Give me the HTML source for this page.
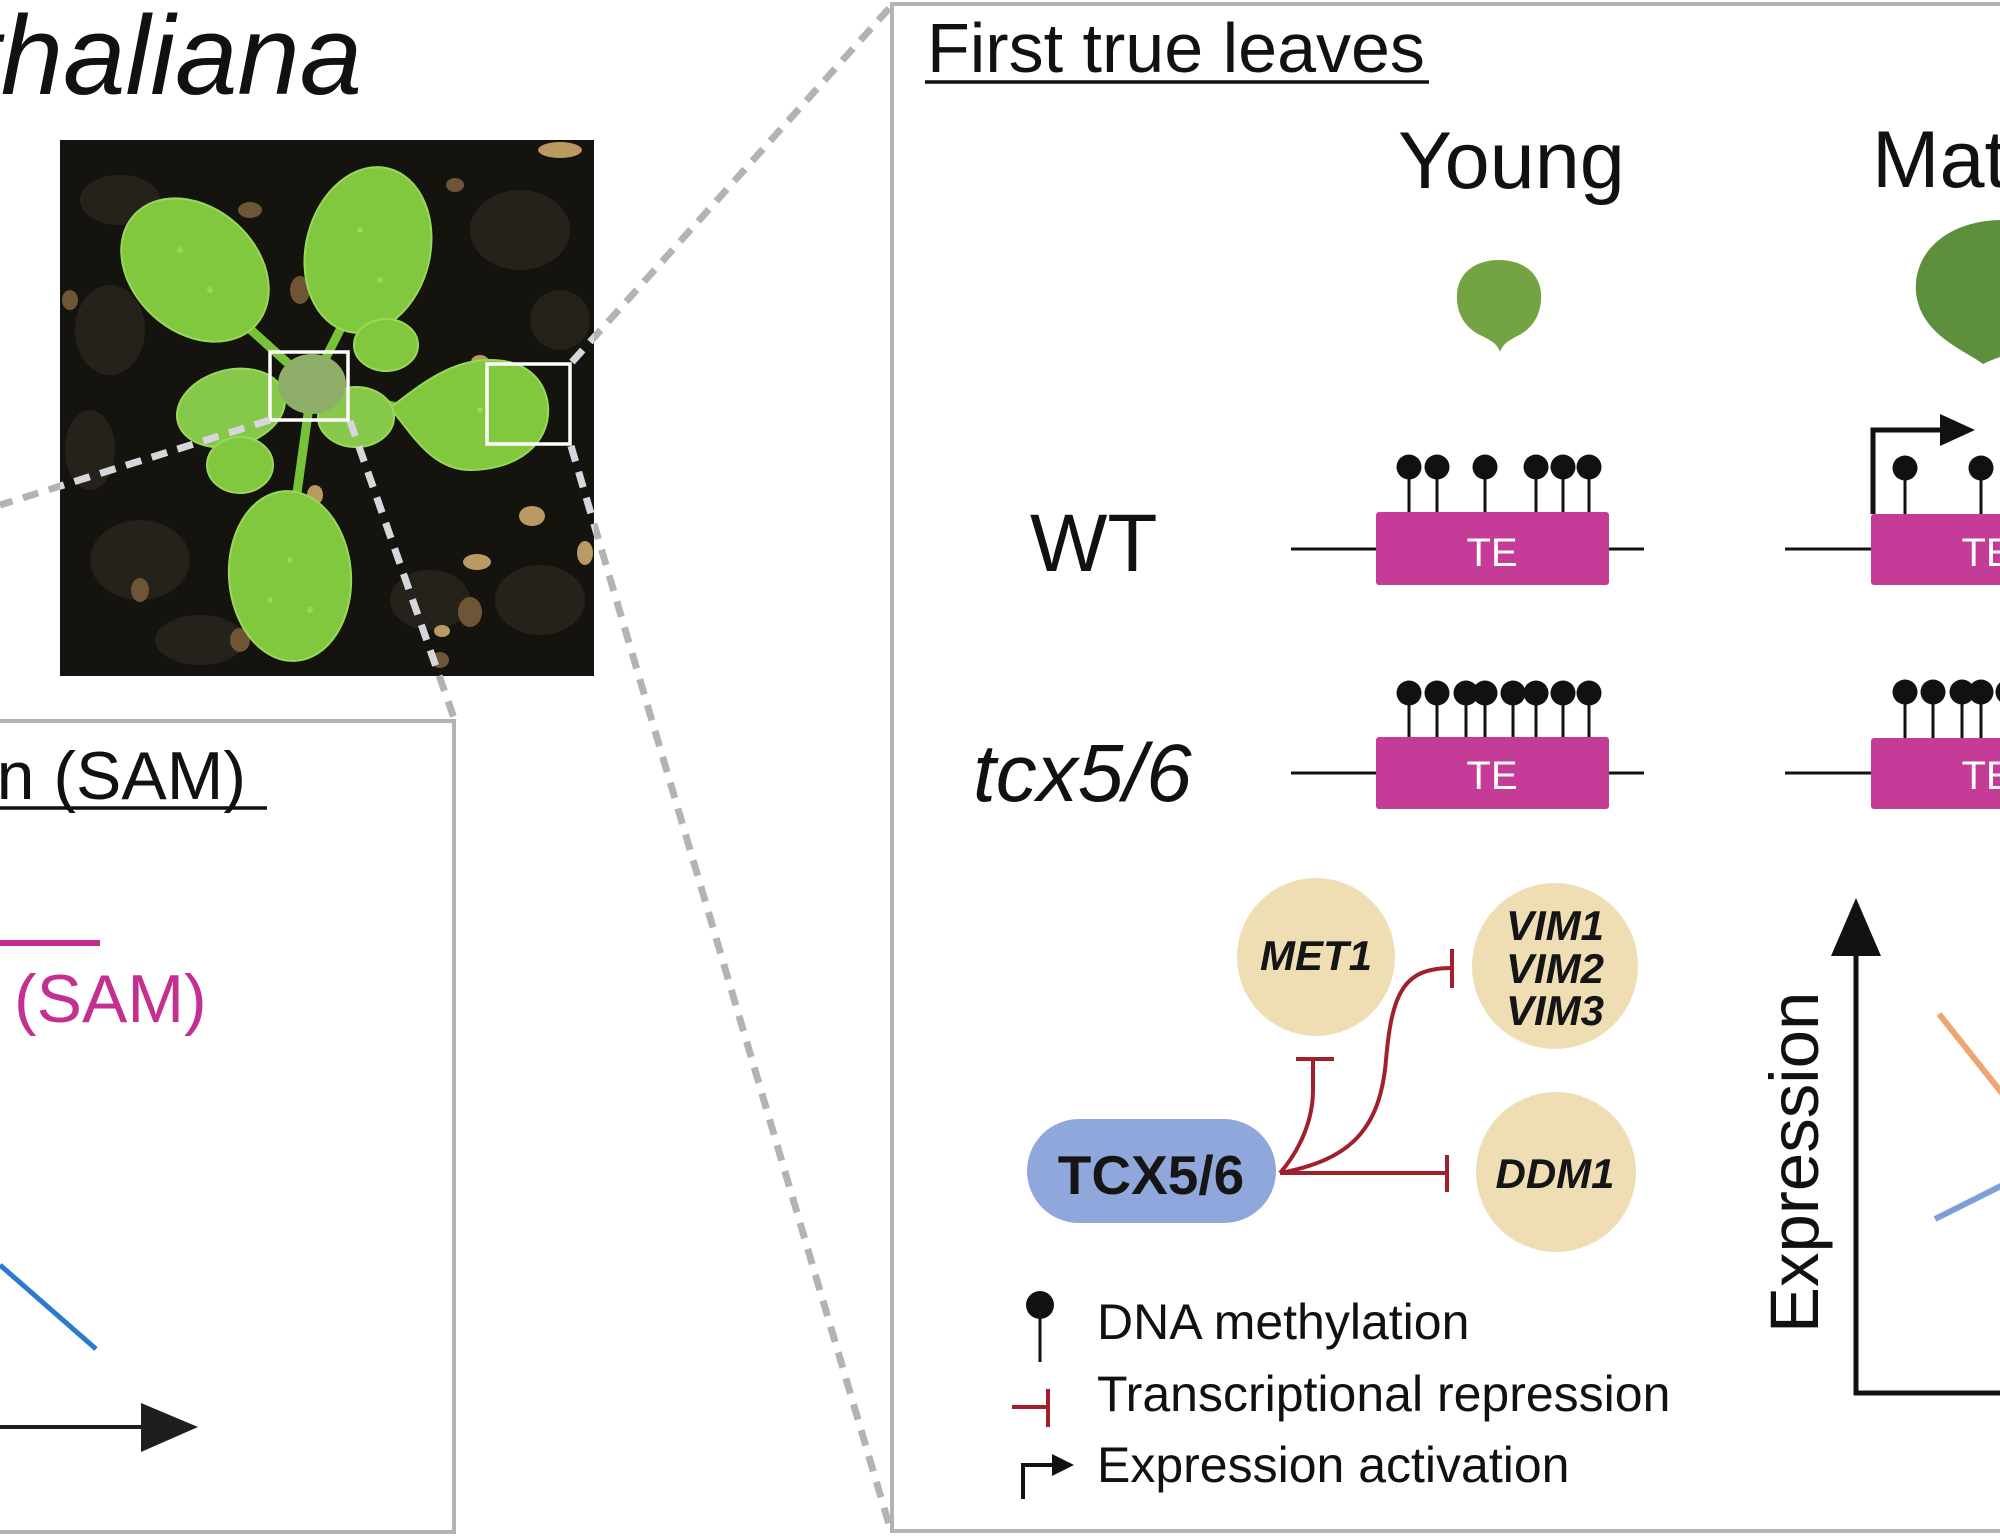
<!DOCTYPE html>
<html>
<head>
<meta charset="utf-8">
<style>
html,body{margin:0;padding:0;background:#fff;}
svg{display:block;}
text{font-family:"Liberation Sans",Arial,sans-serif;}
</style>
</head>
<body>
<svg width="2000" height="1538" viewBox="0 0 2000 1538" xmlns="http://www.w3.org/2000/svg">
<defs>
<clipPath id="photo"><rect x="60" y="140" width="534" height="536"/></clipPath>
</defs>
<rect x="0" y="0" width="2000" height="1538" fill="#fff"/>

<!-- Title -->
<text x="362" y="94" font-size="112" font-style="italic" text-anchor="end" fill="#111">thaliana</text>

<!-- Photo -->
<g clip-path="url(#photo)">
<rect x="60" y="140" width="534" height="536" fill="#14130e"/>
<g fill="#24221b">
<ellipse cx="120" cy="200" rx="40" ry="25"/>
<ellipse cx="110" cy="330" rx="35" ry="45"/>
<ellipse cx="140" cy="560" rx="50" ry="40"/>
<ellipse cx="520" cy="230" rx="50" ry="40"/>
<ellipse cx="540" cy="600" rx="45" ry="35"/>
<ellipse cx="430" cy="600" rx="40" ry="30"/>
<ellipse cx="200" cy="640" rx="45" ry="25"/>
<ellipse cx="90" cy="450" rx="25" ry="40"/>
<ellipse cx="560" cy="320" rx="30" ry="30"/>
</g>
<g fill="#6e5535">
<ellipse cx="250" cy="210" rx="12" ry="8"/>
<ellipse cx="300" cy="290" rx="10" ry="14"/>
<ellipse cx="455" cy="185" rx="9" ry="7"/>
<ellipse cx="70" cy="300" rx="8" ry="10"/>
<ellipse cx="470" cy="612" rx="12" ry="15"/>
<ellipse cx="140" cy="590" rx="9" ry="12"/>
<ellipse cx="240" cy="640" rx="10" ry="12"/>
<ellipse cx="440" cy="660" rx="9" ry="8"/>
</g>
<g fill="#b89a62">
<ellipse cx="560" cy="150" rx="22" ry="8"/>
<ellipse cx="532" cy="516" rx="13" ry="10"/>
<ellipse cx="477" cy="562" rx="14" ry="8"/>
<ellipse cx="585" cy="553" rx="8" ry="12"/>
<ellipse cx="480" cy="362" rx="9" ry="7"/>
<ellipse cx="315" cy="495" rx="8" ry="10"/>
<ellipse cx="442" cy="631" rx="8" ry="6"/>
</g>
<!-- petioles -->
<g stroke="#78c23a" stroke-width="9" stroke-linecap="round" fill="none">
<line x1="312" y1="385" x2="240" y2="320"/>
<line x1="312" y1="385" x2="345" y2="320"/>
<line x1="312" y1="385" x2="400" y2="408"/>
<line x1="312" y1="385" x2="296" y2="500"/>
</g>
<!-- leaves -->
<g fill="#82c83e" stroke="#9ad85c" stroke-width="2">
<ellipse cx="195" cy="270" rx="82" ry="62" transform="rotate(42 195 270)"/>
<ellipse cx="368" cy="250" rx="62" ry="84" transform="rotate(14 368 250)"/>
<ellipse cx="386" cy="345" rx="32" ry="26"/>
<path d="M390,408 C420,385 450,360 490,360 C535,360 550,390 548,415 C545,450 510,470 470,470 C430,470 410,430 390,408 Z"/>
<ellipse cx="231" cy="408" rx="55" ry="38" transform="rotate(-15 231 408)" fill="#86c94a"/>
<ellipse cx="240" cy="465" rx="33" ry="28"/>
<ellipse cx="356" cy="417" rx="38" ry="30" fill="#86c94a"/>
<ellipse cx="290" cy="576" rx="61" ry="85" transform="rotate(-4 290 576)"/>
</g>
<ellipse cx="312" cy="384" rx="34" ry="30" fill="#8fae6a"/>
<g fill="#a8e070" opacity="0.6">
<circle cx="180" cy="250" r="3"/><circle cx="210" cy="290" r="3"/><circle cx="360" cy="230" r="3"/>
<circle cx="380" cy="280" r="3"/><circle cx="290" cy="560" r="3"/><circle cx="270" cy="600" r="3"/>
<circle cx="310" cy="610" r="3"/><circle cx="480" cy="410" r="3"/>
</g>
<!-- white squares -->
<rect x="270" y="352" width="78" height="68" fill="none" stroke="#fff" stroke-width="3.5"/>
<rect x="487" y="364" width="83" height="80" fill="none" stroke="#fff" stroke-width="3.5"/>
</g>

<!-- Dashed connectors -->
<g stroke="#b3b3b3" stroke-width="7" stroke-dasharray="16 11" fill="none">
<line x1="270" y1="420" x2="0" y2="505"/>
<line x1="350" y1="421" x2="455" y2="721"/>
<line x1="572" y1="362" x2="893" y2="4"/>
<line x1="571" y1="446" x2="890" y2="1528"/>
</g>
<g clip-path="url(#photo)" stroke="#d6d6dc" stroke-width="7" stroke-dasharray="16 11" fill="none">
<line x1="270" y1="420" x2="0" y2="505"/>
<line x1="350" y1="421" x2="455" y2="721"/>
<line x1="572" y1="362" x2="893" y2="4"/>
<line x1="571" y1="446" x2="890" y2="1528"/>
</g>

<!-- Left panel -->
<rect x="-10" y="721" width="464" height="811" fill="none" stroke="#b3b3b3" stroke-width="4"/>
<text x="246" y="799" font-size="68" text-anchor="end" fill="#111">Shoot apical region (SAM)</text>
<line x1="0" y1="808" x2="267" y2="808" stroke="#111" stroke-width="3.5"/>
<line x1="0" y1="943" x2="100" y2="943" stroke="#c42b8c" stroke-width="6"/>
<text x="14" y="1022" font-size="68" fill="#c4308f">(SAM)</text>
<line x1="0" y1="1265" x2="96" y2="1349" stroke="#2a7ad0" stroke-width="5"/>
<line x1="0" y1="1427" x2="150" y2="1427" stroke="#1e1e1e" stroke-width="4"/>
<polygon points="141,1403 198,1427 141,1452" fill="#1e1e1e"/>

<!-- Right panel -->
<rect x="892" y="4" width="1200" height="1527" fill="none" stroke="#b3b3b3" stroke-width="4"/>
<text x="927" y="72" font-size="70" fill="#111">First true leaves</text>
<line x1="925" y1="82" x2="1429" y2="82" stroke="#111" stroke-width="3.5"/>

<text x="1398" y="188" font-size="81" fill="#111">Young</text>
<text x="1872" y="187" font-size="81" fill="#111">Mature</text>

<!-- leaves -->
<path d="M1500,352 C1497,343 1490,340 1478,334 C1462,325 1456,310 1457,293 C1459,272 1476,260 1499,260 C1522,260 1539,272 1541,293 C1542,310 1536,325 1521,334 C1510,340 1503,343 1500,352 Z" fill="#74a343"/>
<path d="M1983,364 C1965,350 1920,335 1916,292 C1913,250 1950,221 2000,220 C2050,220 2085,250 2084,292 C2082,340 2010,350 1983,364 Z" fill="#5e8f3d"/>

<text x="1030" y="571" font-size="82" fill="#111">WT</text>
<text x="973" y="801" font-size="82" font-style="italic" fill="#111">tcx5/6</text>

<!-- TE rows -->
<g stroke="#111" stroke-width="3">
<line x1="1291" y1="549" x2="1644" y2="549"/>
<line x1="1291" y1="773" x2="1644" y2="773"/>
<line x1="1785" y1="549" x2="2000" y2="549"/>
<line x1="1785" y1="773" x2="2000" y2="773"/>
</g>
<g fill="#c43b98">
<rect x="1376" y="512" width="233" height="73" rx="3"/>
<rect x="1376" y="737" width="233" height="72" rx="3"/>
<rect x="1871" y="514" width="233" height="71" rx="3"/>
<rect x="1871" y="738" width="233" height="71" rx="3"/>
</g>
<g font-size="40" fill="#fff" text-anchor="middle">
<text x="1492" y="566">TE</text>
<text x="1492" y="789">TE</text>
<text x="1987" y="566">TE</text>
<text x="1987" y="789">TE</text>
</g>

<!-- lollipops -->
<g stroke="#111" stroke-width="3">
<line x1="1409" y1="467" x2="1409" y2="512"/><line x1="1437" y1="467" x2="1437" y2="512"/>
<line x1="1485" y1="467" x2="1485" y2="512"/><line x1="1536" y1="467" x2="1536" y2="512"/>
<line x1="1563" y1="467" x2="1563" y2="512"/><line x1="1589" y1="467" x2="1589" y2="512"/>
<line x1="1409" y1="693" x2="1409" y2="737"/><line x1="1437" y1="693" x2="1437" y2="737"/>
<line x1="1466" y1="693" x2="1466" y2="737"/><line x1="1485" y1="693" x2="1485" y2="737"/>
<line x1="1513" y1="693" x2="1513" y2="737"/><line x1="1536" y1="693" x2="1536" y2="737"/>
<line x1="1563" y1="693" x2="1563" y2="737"/><line x1="1589" y1="693" x2="1589" y2="737"/>
<line x1="1905" y1="468" x2="1905" y2="514"/><line x1="1981" y1="468" x2="1981" y2="514"/>
<line x1="1905" y1="692" x2="1905" y2="738"/><line x1="1933" y1="692" x2="1933" y2="738"/>
<line x1="1962" y1="692" x2="1962" y2="738"/><line x1="1981" y1="692" x2="1981" y2="738"/>
<line x1="2008" y1="692" x2="2008" y2="738"/>
</g>
<g fill="#111">
<circle cx="1409" cy="467" r="12.5"/><circle cx="1437" cy="467" r="12.5"/>
<circle cx="1485" cy="467" r="12.5"/><circle cx="1536" cy="467" r="12.5"/>
<circle cx="1563" cy="467" r="12.5"/><circle cx="1589" cy="467" r="12.5"/>
<circle cx="1409" cy="693" r="12.5"/><circle cx="1437" cy="693" r="12.5"/>
<circle cx="1466" cy="693" r="12.5"/><circle cx="1485" cy="693" r="12.5"/>
<circle cx="1513" cy="693" r="12.5"/><circle cx="1536" cy="693" r="12.5"/>
<circle cx="1563" cy="693" r="12.5"/><circle cx="1589" cy="693" r="12.5"/>
<circle cx="1905" cy="468" r="12.5"/><circle cx="1981" cy="468" r="12.5"/>
<circle cx="1905" cy="692" r="12.5"/><circle cx="1933" cy="692" r="12.5"/>
<circle cx="1962" cy="692" r="12.5"/><circle cx="1981" cy="692" r="12.5"/>
<circle cx="2008" cy="692" r="12.5"/>
</g>
<!-- promoter arrow -->
<path d="M1873,514 L1873,430 L1945,430" fill="none" stroke="#111" stroke-width="5"/>
<polygon points="1940,414 1975,430 1940,446" fill="#111"/>

<!-- Network -->
<g fill="#efdeb3">
<circle cx="1316" cy="957" r="79"/>
<circle cx="1555" cy="966" r="83"/>
<circle cx="1556" cy="1172" r="80"/>
</g>
<rect x="1027" y="1119" width="249" height="104" rx="52" fill="#8fa7da"/>
<text x="1151" y="1194" font-size="55" font-weight="bold" text-anchor="middle" fill="#151515">TCX5/6</text>
<g font-size="42" font-weight="bold" font-style="italic" text-anchor="middle" fill="#151515">
<text x="1316" y="970">MET1</text>
<text x="1555" y="940">VIM1</text>
<text x="1555" y="983">VIM2</text>
<text x="1555" y="1025">VIM3</text>
<text x="1555" y="1188">DDM1</text>
</g>
<g stroke="#a0202c" stroke-width="4" fill="none">
<path d="M1280,1173 C1300,1150 1313,1120 1313,1090 L1313,1060"/>
<path d="M1296,1059 L1334,1059"/>
<path d="M1280,1173 C1350,1160 1380,1130 1386,1060 C1392,990 1405,968 1452,968"/>
<path d="M1452,949 L1452,988"/>
<path d="M1280,1173 L1447,1173"/>
<path d="M1447,1155 L1447,1192"/>
</g>

<!-- Legend -->
<line x1="1040" y1="1305" x2="1040" y2="1362" stroke="#111" stroke-width="3"/>
<circle cx="1040" cy="1305" r="14" fill="#111"/>
<path d="M1012,1407 L1048,1407 M1048,1389 L1048,1427" stroke="#a0202c" stroke-width="4" fill="none"/>
<path d="M1023,1499 L1023,1465 L1055,1465" stroke="#111" stroke-width="4" fill="none"/>
<polygon points="1052,1454 1074,1465 1052,1476" fill="#111"/>
<g font-size="50" fill="#111">
<text x="1097" y="1339">DNA methylation</text>
<text x="1097" y="1411">Transcriptional repression</text>
<text x="1097" y="1482">Expression activation</text>
</g>

<!-- Expression axis -->
<line x1="1856" y1="1395" x2="1856" y2="950" stroke="#111" stroke-width="5"/>
<polygon points="1831,956 1856,898 1881,956" fill="#111"/>
<line x1="1854" y1="1393" x2="2000" y2="1393" stroke="#111" stroke-width="5"/>
<text transform="translate(1818,1333) rotate(-90)" font-size="69" fill="#111">Expression</text>
<line x1="1939" y1="1014" x2="2005" y2="1097" stroke="#eea572" stroke-width="6"/>
<line x1="1935" y1="1219" x2="2005" y2="1184" stroke="#7e9ed9" stroke-width="6"/>
</svg>
</body>
</html>
